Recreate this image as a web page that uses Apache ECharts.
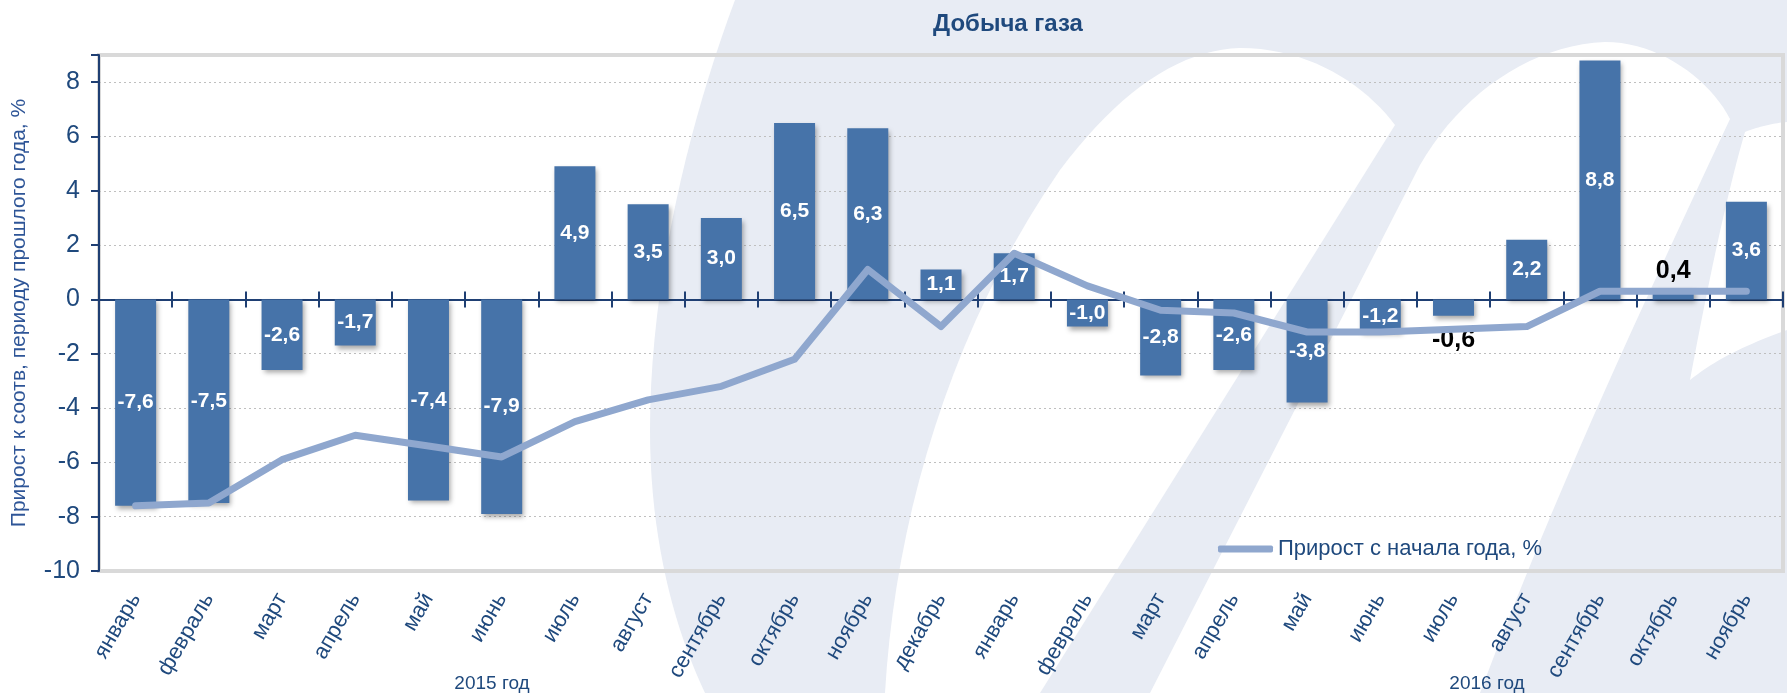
<!DOCTYPE html>
<html><head><meta charset="utf-8">
<script src="https://cdn.jsdelivr.net/npm/echarts@6/dist/echarts.min.js"></script>
<style>html,body{margin:0;padding:0;background:#fff}#c{width:1787px;height:693px}</style>
</head><body><div id="c"></div>
<script>
const categories = ['январь','февраль','март','апрель','май','июнь','июль','август','сентябрь','октябрь','ноябрь','декабрь',
                    'январь','февраль','март','апрель','май','июнь','июль','август','сентябрь','октябрь','ноябрь'];
const monthlyGrowth = [-7.6,-7.5,-2.6,-1.7,-7.4,-7.9,4.9,3.5,3.0,6.5,6.3,1.1,1.7,-1.0,-2.8,-2.6,-3.8,-1.2,-0.6,2.2,8.8,0.4,3.6];
const ytdGrowth = [-7.6,-7.5,-5.9,-5.0,-5.4,-5.8,-4.5,-3.7,-3.2,-2.2,1.1,-1.0,1.7,0.5,-0.4,-0.5,-1.2,-1.2,-1.1,-1.0,0.3,0.3,0.3];
const yearLabels = ['2015 год','2016 год'];
const titleText = 'Добыча газа';
const yAxisName = 'Прирост к соотв, периоду прошлого года, %';
const lineName = 'Прирост с начала года, %';
const yMin = -10, yMax = 9, yInterval = 2;

const NAVY = '#1F3F73';
const TXT = '#1F497D';
const BAR = '#4673A9';
const LINE = '#8FA7CE';
const WM = '#E8ECF4';
const fmt = v => v.toFixed(1).replace('.', ',');
const sans = "'Liberation Sans',Arial,sans-serif";

// decorative watermark outline: sample simple path strings (M, L, C, Z) into polygon points
function pathPoints(d) {
  const t = d.trim().split(/[\s,]+/); const pts = []; let i = 0, cx = 0, cy = 0;
  while (i < t.length) {
    const c = t[i++];
    if (c === 'M' || c === 'L') { cx = +t[i++]; cy = +t[i++]; pts.push([cx, cy]); }
    else if (c === 'C') {
      const x1 = +t[i++], y1 = +t[i++], x2 = +t[i++], y2 = +t[i++], x3 = +t[i++], y3 = +t[i++];
      for (let k = 1; k <= 20; k++) { const s = k / 20, u = 1 - s;
        pts.push([u*u*u*cx + 3*u*u*s*x1 + 3*u*s*s*x2 + s*s*s*x3, u*u*u*cy + 3*u*u*s*y1 + 3*u*s*s*y2 + s*s*s*y3]); }
      cx = x3; cy = y3;
    }
  }
  return pts;
}
const wmShape = (d, fill, z) => ({ type: 'polygon', z: z, silent: true, shape: { points: pathPoints(d) }, style: { fill: fill } });

const barData = monthlyGrowth.map(v => Math.abs(v) < 0.8 ? {
  value: v,
  label: { position: v < 0 ? 'bottom' : 'top', distance: v < 0 ? 12 : 5, color: '#000',
           fontFamily: sans, fontSize: 25, fontWeight: 'bold' }
} : v);

const chart = echarts.init(document.getElementById('c'), null, {renderer: 'canvas'});
chart.setOption({
  animation: false,
  backgroundColor: '#fff',
  grid: { left: 99, right: 4, top: 55, bottom: 122, containLabel: false, outerBoundsMode: 'none',
          show: true, borderColor: '#D9D9D9', borderWidth: 4, backgroundColor: 'transparent' },
  graphic: [
    wmShape('M 735 0 C 690 120 650 280 650 430 C 650 540 675 630 705 693 L 1787 693 L 1787 0 Z', WM, -10),
    wmShape('M 885 693 C 895 520 950 330 1060 170 C 1120 90 1180 50 1240 48 C 1310 48 1365 85 1395 125 L 1040 693 Z', '#fff', -9),
    wmShape('M 1150 693 L 1420 165 C 1460 95 1530 45 1605 42 C 1660 42 1710 80 1730 119 C 1650 290 1560 480 1480 693 Z', '#fff', -9),
    wmShape('M 1745 132 C 1760 126 1775 123 1787 122 L 1787 330 C 1745 345 1715 360 1690 380 C 1705 300 1725 200 1745 132 Z', '#fff', -9),
    { type: 'text', x: 1008, y: 24, silent: true, style: { text: titleText, align: 'center', verticalAlign: 'middle', fill: TXT, font: "bold 24px 'Liberation Sans', Arial, sans-serif" } },
    { type: 'text', x: 492, y: 684, silent: true, style: { text: yearLabels[0], align: 'center', verticalAlign: 'middle', fill: TXT, font: "19px 'Liberation Sans', sans-serif" } },
    { type: 'text', x: 1487, y: 684, silent: true, style: { text: yearLabels[1], align: 'center', verticalAlign: 'middle', fill: TXT, font: "19px 'Liberation Sans', sans-serif" } }
  ],
  legend: {
    data: [lineName], left: 1218, top: 538, padding: 0, icon: 'roundRect', itemWidth: 55, itemHeight: 7,
    textStyle: { fontFamily: sans, fontSize: 22, color: TXT }
  },
  xAxis: [
    { type: 'category', data: categories, position: 'bottom', boundaryGap: true,
      axisLine: { show: true, onZero: true, lineStyle: { color: NAVY, width: 2 } },
      axisTick: { show: true, length: 8, lineStyle: { color: NAVY, width: 2 } },
      axisLabel: { show: false }, splitLine: { show: false } },
    { type: 'category', data: categories, position: 'bottom', boundaryGap: true,
      axisLine: { show: false, onZero: false }, axisTick: { show: false },
      axisLabel: { show: true, rotate: 60, margin: 24, fontFamily: sans, fontSize: 22, color: TXT, interval: 0 },
      splitLine: { show: false } },
    { type: 'category', data: categories, position: 'top', boundaryGap: true,
      axisLine: { show: true, onZero: true, onZeroAxisIndex: 1, lineStyle: { color: NAVY, width: 2 } },
      axisTick: { show: true, length: 8, lineStyle: { color: NAVY, width: 2 } },
      axisLabel: { show: false }, splitLine: { show: false } }
  ],
  yAxis: [
    { type: 'value', min: yMin, max: yMax, interval: yInterval, position: 'left',
      name: yAxisName, nameLocation: 'middle', nameGap: 69, nameRotate: 90,
      nameTextStyle: { fontFamily: sans, fontSize: 21, color: '#2E5597' },
      axisLine: { show: true, onZero: false, lineStyle: { color: NAVY, width: 2 } },
      axisTick: { show: true, length: 8, lineStyle: { color: NAVY, width: 2 } },
      axisLabel: { fontFamily: sans, fontSize: 25, color: TXT, margin: 19, formatter: v => v === yMax ? '' : String(v) },
      splitLine: { show: true, lineStyle: { type: [2, 3], width: 1,
        color: ['transparent','#BFBFBF','#BFBFBF','#BFBFBF','#BFBFBF','#BFBFBF','#BFBFBF','#BFBFBF','#BFBFBF','#BFBFBF','transparent'] } } },
    { type: 'value', min: yMin, max: yMax, interval: yInterval, show: false, splitLine: { show: false } }
  ],
  series: [
    { type: 'bar', name: 'Прирост к соотв. периоду', xAxisIndex: 0, yAxisIndex: 0, data: barData, barWidth: 41,
      itemStyle: { color: BAR, shadowColor: 'rgba(0,0,0,0.35)', shadowBlur: 5, shadowOffsetX: 2, shadowOffsetY: 3 },
      label: { show: true, position: 'inside', formatter: p => fmt(p.value), color: '#fff',
               fontFamily: sans, fontSize: 21, fontWeight: 'bold' },
      z: 2 },
    { type: 'line', name: lineName, xAxisIndex: 0, yAxisIndex: 0, data: ytdGrowth, symbol: 'none',
      lineStyle: { width: 7, color: LINE, cap: 'round', join: 'round' }, itemStyle: { color: LINE }, z: 3 }
  ]
});
</script></body></html>
